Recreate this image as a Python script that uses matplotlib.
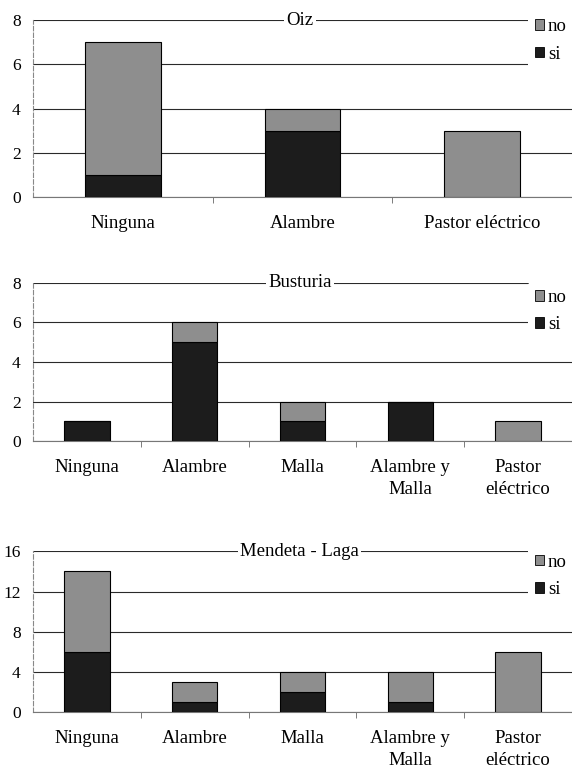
import matplotlib.pyplot as plt
from matplotlib.patches import Patch
import numpy as np

plt.rcParams['font.family'] = ['Liberation Serif', 'DejaVu Serif']

# --- data: animals per type of protection, split into si / no ---
oiz_cats = ["Ninguna", "Alambre", "Pastor eléctrico"]
oiz_si = [1, 3, 0]
oiz_no = [6, 1, 3]

bus_cats = ["Ninguna", "Alambre", "Malla", "Alambre y\nMalla", "Pastor\neléctrico"]
bus_si = [1, 5, 1, 2, 0]
bus_no = [0, 1, 1, 0, 1]

men_cats = ["Ninguna", "Alambre", "Malla", "Alambre y\nMalla", "Pastor\neléctrico"]
men_si = [6, 1, 2, 1, 0]
men_no = [8, 2, 2, 3, 6]

SI_COLOR = '#1c1c1c'
NO_COLOR = '#8e8e8e'
FS = 13.5


def stacked_panel(ax, title, cats, si, no, ymax, ystep, leg_y):
    x = np.arange(len(cats))
    ax.bar(x, si, width=0.42, color=SI_COLOR, edgecolor='black', linewidth=0.8, zorder=3)
    ax.bar(x, no, width=0.42, bottom=si, color=NO_COLOR, edgecolor='black', linewidth=0.8, zorder=3)

    ax.set_xlim(-0.5, len(cats) - 0.5)
    ax.set_ylim(0, ymax)
    ax.set_yticks(np.arange(0, ymax + 1, ystep))
    ax.yaxis.grid(True, color='#2a2a2a', linewidth=0.8, zorder=0)
    ax.set_axisbelow(True)

    # category labels centred, tick marks on the boundaries
    ax.set_xticks(x)
    ax.set_xticklabels(cats, fontsize=FS, linespacing=1.35)
    ax.tick_params(axis='x', length=0, pad=13)
    ax.set_xticks(np.arange(0.5, len(cats) - 0.5, 1), minor=True)
    ax.tick_params(axis='x', which='minor', length=4, color='#666666', direction='out')
    ax.tick_params(axis='y', length=0, labelsize=12.5, pad=9)

    for s in ['top', 'right']:
        ax.spines[s].set_visible(False)
    ax.spines['left'].set_color('#888888')
    ax.spines['left'].set_linestyle((0, (4, 2)))
    ax.spines['left'].set_linewidth(0.8)
    ax.spines['bottom'].set_color('#777777')
    ax.spines['bottom'].set_linewidth(0.8)

    ax.text(0.495, 1.0, title, transform=ax.transAxes, ha='center', va='center',
            fontsize=FS, zorder=5,
            bbox=dict(facecolor='white', edgecolor='none', pad=1.5))

    handles = [Patch(facecolor=NO_COLOR, edgecolor='black', linewidth=0.6),
               Patch(facecolor=SI_COLOR, edgecolor='black', linewidth=0.6)]
    leg = ax.legend(handles, ['no', 'si'], loc='upper right', bbox_to_anchor=(1.02, leg_y),
                    frameon=True, fontsize=FS, handlelength=0.5, handleheight=0.5,
                    handletextpad=0.2, labelspacing=0.55, borderpad=0.35)
    leg.get_frame().set_facecolor('white')
    leg.get_frame().set_edgecolor('none')
    leg.get_frame().set_alpha(1.0)
    leg.set_zorder(6)


fig = plt.figure(figsize=(5.72, 7.70), dpi=100)
ax1 = fig.add_axes([0.058, 0.744, 0.942, 0.230])
ax2 = fig.add_axes([0.058, 0.427, 0.942, 0.206])
ax3 = fig.add_axes([0.058, 0.075, 0.942, 0.209])

stacked_panel(ax1, "Oiz", oiz_cats, oiz_si, oiz_no, 8, 2, 1.10)
stacked_panel(ax2, "Busturia", bus_cats, bus_si, bus_no, 8, 2, 1.06)
stacked_panel(ax3, "Mendeta - Laga", men_cats, men_si, men_no, 16, 4, 1.085)

fig.savefig('out.png', dpi=100)
